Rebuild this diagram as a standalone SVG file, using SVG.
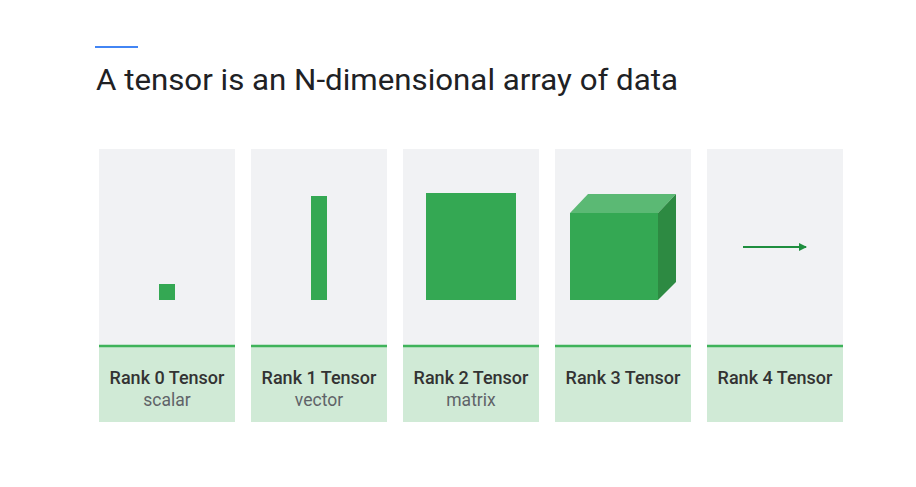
<svg xmlns="http://www.w3.org/2000/svg" width="916" height="487" viewBox="0 0 916 487">
<style>
.panel{fill:#f1f2f4}
.label{fill:#d0ead6}
.sep{stroke:#3fb35a;stroke-width:2.5}
.g{fill:#34a853}
.t1{font-family:Roboto,"Liberation Sans",sans-serif;font-size:18px;fill:#333;text-anchor:middle;font-weight:500}
.t2{font-family:Roboto,"Liberation Sans",sans-serif;font-size:17.5px;fill:#5f6368;text-anchor:middle}
</style>
<defs>
<marker id="ah" markerWidth="8" markerHeight="8" refX="7" refY="4" orient="auto" markerUnits="userSpaceOnUse"><path d="M0,0 L8,4 L0,8 Z" fill="#1e8e3e"/></marker>
</defs>
<rect width="916" height="487" fill="#ffffff"/>
<line x1="95" y1="47" x2="138" y2="47" stroke="#4285f4" stroke-width="2"/>
<text x="96" y="90" font-family="Roboto,'Liberation Sans',sans-serif" font-size="29.5" fill="#202124" textLength="582" lengthAdjust="spacingAndGlyphs">A tensor is an N-dimensional array of data</text>
<g id="rank0">
<rect class="panel" x="99" y="149" width="136" height="197"/>
<rect class="label" x="99" y="346" width="136" height="76"/>
<line class="sep" x1="99" y1="346" x2="235" y2="346"/>
<rect class="g" x="159" y="284" width="16" height="16"/>
<text class="t1" x="167" y="384">Rank 0 Tensor</text>
<text class="t2" x="167" y="406">scalar</text>
</g>
<g id="rank1">
<rect class="panel" x="251" y="149" width="136" height="197"/>
<rect class="label" x="251" y="346" width="136" height="76"/>
<line class="sep" x1="251" y1="346" x2="387" y2="346"/>
<rect class="g" x="311" y="196" width="16" height="104"/>
<text class="t1" x="319" y="384">Rank 1 Tensor</text>
<text class="t2" x="319" y="406">vector</text>
</g>
<g id="rank2">
<rect class="panel" x="403" y="149" width="136" height="197"/>
<rect class="label" x="403" y="346" width="136" height="76"/>
<line class="sep" x1="403" y1="346" x2="539" y2="346"/>
<rect class="g" x="426" y="193" width="90" height="107"/>
<text class="t1" x="471" y="384">Rank 2 Tensor</text>
<text class="t2" x="471" y="406">matrix</text>
</g>
<g id="rank3">
<rect class="panel" x="555" y="149" width="136" height="197"/>
<rect class="label" x="555" y="346" width="136" height="76"/>
<line class="sep" x1="555" y1="346" x2="691" y2="346"/>
<polygon points="570,213 588,194 676,194 658,213" fill="#5bb974"/>
<polygon points="658,213 676,194 676,282 658,300" fill="#2d8a42"/>
<rect class="g" x="570" y="213" width="88" height="87"/>
<text class="t1" x="623" y="384">Rank 3 Tensor</text>
</g>
<g id="rank4">
<rect class="panel" x="707" y="149" width="136" height="197"/>
<rect class="label" x="707" y="346" width="136" height="76"/>
<line class="sep" x1="707" y1="346" x2="843" y2="346"/>
<text class="t1" x="775" y="384">Rank 4 Tensor</text>
</g>
<g id="connectors">
<line x1="743" y1="247" x2="806" y2="247" stroke="#1e8e3e" stroke-width="2" marker-end="url(#ah)"/>
</g>
</svg>
